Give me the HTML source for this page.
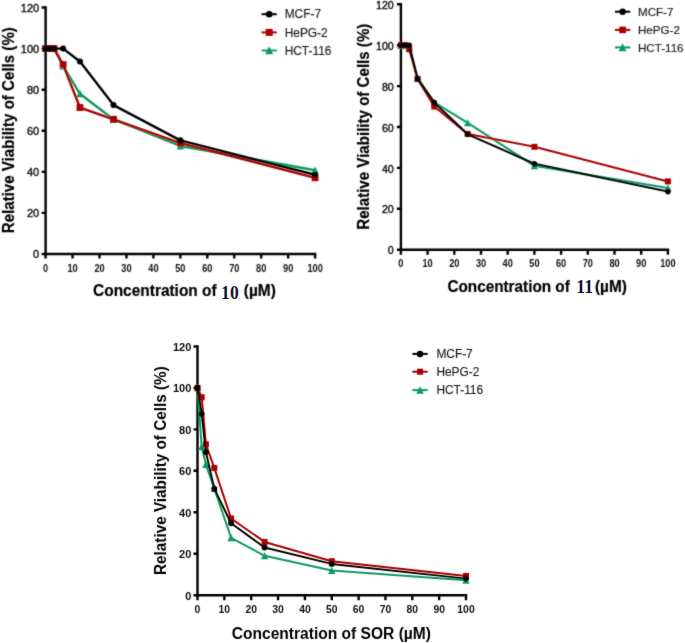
<!DOCTYPE html>
<html><head><meta charset="utf-8"><title>Cell viability charts</title>
<style>html,body{margin:0;padding:0;background:#fff;}svg{display:block;}</style></head>
<body><svg width="685" height="643" viewBox="0 0 685 643">
<defs><filter id="bt" x="-5%" y="-5%" width="110%" height="110%"><feConvolveMatrix order="3" kernelMatrix="1 2 1 2 16 2 1 2 1" divisor="28" edgeMode="none"/></filter><filter id="bb" x="-5%" y="-5%" width="110%" height="110%"><feConvolveMatrix order="3" kernelMatrix="1 2 1 2 28 2 1 2 1" divisor="40" edgeMode="none"/></filter></defs>
<rect width="685" height="643" fill="#fff"/>
<g filter="url(#bt)"><path d="M45.6 6.32V254M44.4 254H316.3" stroke="#000" stroke-width="2.4" fill="none"/>
<path d="M41.6 254H45.6M41.6 212.92H45.6M41.6 171.84H45.6M41.6 130.76H45.6M41.6 89.68H45.6M41.6 48.6H45.6M41.6 7.52H45.6" stroke="#000" stroke-width="2.4"/>
<path d="M45.6 254V258.6M72.55 254V258.6M99.5 254V258.6M126.45 254V258.6M153.4 254V258.6M180.35 254V258.6M207.3 254V258.6M234.25 254V258.6M261.2 254V258.6M288.15 254V258.6M315.1 254V258.6" stroke="#000" stroke-width="2.4"/>
<text x="39.2" y="258" text-anchor="end" style="font-family:'Liberation Sans',sans-serif;font-size:11px;fill:#111;stroke:#111;stroke-width:0.4">0</text>
<text x="39.2" y="216.92" text-anchor="end" style="font-family:'Liberation Sans',sans-serif;font-size:11px;fill:#111;stroke:#111;stroke-width:0.4">20</text>
<text x="39.2" y="175.84" text-anchor="end" style="font-family:'Liberation Sans',sans-serif;font-size:11px;fill:#111;stroke:#111;stroke-width:0.4">40</text>
<text x="39.2" y="134.76" text-anchor="end" style="font-family:'Liberation Sans',sans-serif;font-size:11px;fill:#111;stroke:#111;stroke-width:0.4">60</text>
<text x="39.2" y="93.68" text-anchor="end" style="font-family:'Liberation Sans',sans-serif;font-size:11px;fill:#111;stroke:#111;stroke-width:0.4">80</text>
<text x="39.2" y="52.6" text-anchor="end" style="font-family:'Liberation Sans',sans-serif;font-size:11px;fill:#111;stroke:#111;stroke-width:0.4">100</text>
<text x="39.2" y="11.52" text-anchor="end" style="font-family:'Liberation Sans',sans-serif;font-size:11px;fill:#111;stroke:#111;stroke-width:0.4">120</text>
<text transform="translate(45.6 271.5) scale(0.8 1)" text-anchor="middle" style="font-family:'Liberation Sans',sans-serif;font-size:11.5px;font-weight:bold;fill:#111">0</text>
<text transform="translate(72.55 271.5) scale(0.8 1)" text-anchor="middle" style="font-family:'Liberation Sans',sans-serif;font-size:11.5px;font-weight:bold;fill:#111">10</text>
<text transform="translate(99.5 271.5) scale(0.8 1)" text-anchor="middle" style="font-family:'Liberation Sans',sans-serif;font-size:11.5px;font-weight:bold;fill:#111">20</text>
<text transform="translate(126.45 271.5) scale(0.8 1)" text-anchor="middle" style="font-family:'Liberation Sans',sans-serif;font-size:11.5px;font-weight:bold;fill:#111">30</text>
<text transform="translate(153.4 271.5) scale(0.8 1)" text-anchor="middle" style="font-family:'Liberation Sans',sans-serif;font-size:11.5px;font-weight:bold;fill:#111">40</text>
<text transform="translate(180.35 271.5) scale(0.8 1)" text-anchor="middle" style="font-family:'Liberation Sans',sans-serif;font-size:11.5px;font-weight:bold;fill:#111">50</text>
<text transform="translate(207.3 271.5) scale(0.8 1)" text-anchor="middle" style="font-family:'Liberation Sans',sans-serif;font-size:11.5px;font-weight:bold;fill:#111">60</text>
<text transform="translate(234.25 271.5) scale(0.8 1)" text-anchor="middle" style="font-family:'Liberation Sans',sans-serif;font-size:11.5px;font-weight:bold;fill:#111">70</text>
<text transform="translate(261.2 271.5) scale(0.8 1)" text-anchor="middle" style="font-family:'Liberation Sans',sans-serif;font-size:11.5px;font-weight:bold;fill:#111">80</text>
<text transform="translate(288.15 271.5) scale(0.8 1)" text-anchor="middle" style="font-family:'Liberation Sans',sans-serif;font-size:11.5px;font-weight:bold;fill:#111">90</text>
<text transform="translate(315.1 271.5) scale(0.8 1)" text-anchor="middle" style="font-family:'Liberation Sans',sans-serif;font-size:11.5px;font-weight:bold;fill:#111">100</text>
<text transform="translate(13.8 130.2) rotate(-90) scale(1 1.15)" text-anchor="middle" style="font-family:'Liberation Sans',sans-serif;font-size:15.1px;font-weight:bold;fill:#000;stroke:#000;stroke-width:0.2">Relative Viability of Cells (%)</text>
<text transform="translate(93.1 295.8) scale(1 1.1)" style="font-family:'Liberation Sans',sans-serif;font-size:15.45px;font-weight:bold;fill:#000;stroke:#000;stroke-width:0.2">Concentration of </text><text transform="translate(243.8 295.8) scale(1 1.1)" style="font-family:'Liberation Sans',sans-serif;font-size:15.45px;font-weight:bold;fill:#000;stroke:#000;stroke-width:0.2">(µM)</text>
<path d="M45.6 48.6L49.8 48.6L54.02 48.6L63.12 66.06L79.96 93.79L113.51 119.46L180.35 145.96L315.1 170.2" stroke="#119a62" stroke-width="2.4" fill="none" stroke-linejoin="round"/>
<path d="M45.6 44.8L49.32 52.1L41.88 52.1Z" fill="#119a62"/>
<path d="M49.8 44.8L53.53 52.1L46.08 52.1Z" fill="#119a62"/>
<path d="M54.02 44.8L57.74 52.1L50.3 52.1Z" fill="#119a62"/>
<path d="M63.12 62.26L66.84 69.56L59.39 69.56Z" fill="#119a62"/>
<path d="M79.96 89.99L83.68 97.29L76.24 97.29Z" fill="#119a62"/>
<path d="M113.51 115.67L117.24 122.97L109.79 122.97Z" fill="#119a62"/>
<path d="M180.35 142.16L184.07 149.46L176.63 149.46Z" fill="#119a62"/>
<path d="M315.1 166.4L318.82 173.7L311.38 173.7Z" fill="#119a62"/>
<path d="M45.6 48.6L49.8 48.6L54.02 48.6L63.12 64.62L79.96 107.55L113.51 119.26L180.35 143.08L315.1 177.8" stroke="#a80000" stroke-width="2.4" fill="none" stroke-linejoin="round"/>
<rect x="42.2" y="45.2" width="6.8" height="6.8" fill="#a80000"/>
<rect x="46.4" y="45.2" width="6.8" height="6.8" fill="#a80000"/>
<rect x="50.62" y="45.2" width="6.8" height="6.8" fill="#a80000"/>
<rect x="59.72" y="61.22" width="6.8" height="6.8" fill="#a80000"/>
<rect x="76.56" y="104.15" width="6.8" height="6.8" fill="#a80000"/>
<rect x="110.11" y="115.86" width="6.8" height="6.8" fill="#a80000"/>
<rect x="176.95" y="139.68" width="6.8" height="6.8" fill="#a80000"/>
<rect x="311.7" y="174.4" width="6.8" height="6.8" fill="#a80000"/>
<path d="M45.6 48.6L49.8 48.6L54.02 48.6L63.12 48.6L79.96 61.54L113.51 105.09L180.35 140.41L315.1 174.72" stroke="#000000" stroke-width="2.4" fill="none" stroke-linejoin="round"/>
<circle cx="45.6" cy="48.6" r="3.05" fill="#000000"/>
<circle cx="49.8" cy="48.6" r="3.05" fill="#000000"/>
<circle cx="54.02" cy="48.6" r="3.05" fill="#000000"/>
<circle cx="63.12" cy="48.6" r="3.05" fill="#000000"/>
<circle cx="79.96" cy="61.54" r="3.05" fill="#000000"/>
<circle cx="113.51" cy="105.09" r="3.05" fill="#000000"/>
<circle cx="180.35" cy="140.41" r="3.05" fill="#000000"/>
<circle cx="315.1" cy="174.72" r="3.05" fill="#000000"/>
<path d="M261.6 14.2H276.8" stroke="#000000" stroke-width="2.0"/>
<circle cx="269.2" cy="14.2" r="3.3" fill="#000000"/>
<text x="284.7" y="18.4" style="font-family:'Liberation Sans',sans-serif;font-size:11.9px;fill:#1a1a1a;stroke:#1a1a1a;stroke-width:0.15">MCF-7</text>
<path d="M261.6 32.4H276.8" stroke="#a80000" stroke-width="2.0"/>
<rect x="265.7" y="28.9" width="7" height="7" fill="#a80000"/>
<text x="284.7" y="36.6" style="font-family:'Liberation Sans',sans-serif;font-size:11.9px;fill:#1a1a1a;stroke:#1a1a1a;stroke-width:0.15">HePG-2</text>
<path d="M261.6 50.5H276.8" stroke="#119a62" stroke-width="2.0"/>
<path d="M269.2 46.34L273.28 54.34L265.12 54.34Z" fill="#119a62"/>
<text x="284.7" y="54.7" style="font-family:'Liberation Sans',sans-serif;font-size:11.9px;fill:#1a1a1a;stroke:#1a1a1a;stroke-width:0.15">HCT-116</text>
<path d="M400.9 3.1V249.7M399.7 249.7H669.1" stroke="#000" stroke-width="2.4" fill="none"/>
<path d="M396.9 249.7H400.9M396.9 208.8H400.9M396.9 167.9H400.9M396.9 127H400.9M396.9 86.1H400.9M396.9 45.2H400.9M396.9 4.3H400.9" stroke="#000" stroke-width="2.4"/>
<path d="M400.9 249.7V254.7M427.6 249.7V254.7M454.3 249.7V254.7M481 249.7V254.7M507.7 249.7V254.7M534.4 249.7V254.7M561.1 249.7V254.7M587.8 249.7V254.7M614.5 249.7V254.7M641.2 249.7V254.7M667.9 249.7V254.7" stroke="#000" stroke-width="2.4"/>
<text x="393.7" y="254.3" text-anchor="end" style="font-family:'Liberation Sans',sans-serif;font-size:10.6px;fill:#111;stroke:#111;stroke-width:0.4">0</text>
<text x="393.7" y="213.4" text-anchor="end" style="font-family:'Liberation Sans',sans-serif;font-size:10.6px;fill:#111;stroke:#111;stroke-width:0.4">20</text>
<text x="393.7" y="172.5" text-anchor="end" style="font-family:'Liberation Sans',sans-serif;font-size:10.6px;fill:#111;stroke:#111;stroke-width:0.4">40</text>
<text x="393.7" y="131.6" text-anchor="end" style="font-family:'Liberation Sans',sans-serif;font-size:10.6px;fill:#111;stroke:#111;stroke-width:0.4">60</text>
<text x="393.7" y="90.7" text-anchor="end" style="font-family:'Liberation Sans',sans-serif;font-size:10.6px;fill:#111;stroke:#111;stroke-width:0.4">80</text>
<text x="393.7" y="49.8" text-anchor="end" style="font-family:'Liberation Sans',sans-serif;font-size:10.6px;fill:#111;stroke:#111;stroke-width:0.4">100</text>
<text x="393.7" y="8.9" text-anchor="end" style="font-family:'Liberation Sans',sans-serif;font-size:10.6px;fill:#111;stroke:#111;stroke-width:0.4">120</text>
<text transform="translate(400.9 267.3) scale(0.8 1)" text-anchor="middle" style="font-family:'Liberation Sans',sans-serif;font-size:11.5px;font-weight:bold;fill:#111">0</text>
<text transform="translate(427.6 267.3) scale(0.8 1)" text-anchor="middle" style="font-family:'Liberation Sans',sans-serif;font-size:11.5px;font-weight:bold;fill:#111">10</text>
<text transform="translate(454.3 267.3) scale(0.8 1)" text-anchor="middle" style="font-family:'Liberation Sans',sans-serif;font-size:11.5px;font-weight:bold;fill:#111">20</text>
<text transform="translate(481 267.3) scale(0.8 1)" text-anchor="middle" style="font-family:'Liberation Sans',sans-serif;font-size:11.5px;font-weight:bold;fill:#111">30</text>
<text transform="translate(507.7 267.3) scale(0.8 1)" text-anchor="middle" style="font-family:'Liberation Sans',sans-serif;font-size:11.5px;font-weight:bold;fill:#111">40</text>
<text transform="translate(534.4 267.3) scale(0.8 1)" text-anchor="middle" style="font-family:'Liberation Sans',sans-serif;font-size:11.5px;font-weight:bold;fill:#111">50</text>
<text transform="translate(561.1 267.3) scale(0.8 1)" text-anchor="middle" style="font-family:'Liberation Sans',sans-serif;font-size:11.5px;font-weight:bold;fill:#111">60</text>
<text transform="translate(587.8 267.3) scale(0.8 1)" text-anchor="middle" style="font-family:'Liberation Sans',sans-serif;font-size:11.5px;font-weight:bold;fill:#111">70</text>
<text transform="translate(614.5 267.3) scale(0.8 1)" text-anchor="middle" style="font-family:'Liberation Sans',sans-serif;font-size:11.5px;font-weight:bold;fill:#111">80</text>
<text transform="translate(641.2 267.3) scale(0.8 1)" text-anchor="middle" style="font-family:'Liberation Sans',sans-serif;font-size:11.5px;font-weight:bold;fill:#111">90</text>
<text transform="translate(667.9 267.3) scale(0.8 1)" text-anchor="middle" style="font-family:'Liberation Sans',sans-serif;font-size:11.5px;font-weight:bold;fill:#111">100</text>
<text transform="translate(368.5 126.7) rotate(-90) scale(1 1.15)" text-anchor="middle" style="font-family:'Liberation Sans',sans-serif;font-size:15.1px;font-weight:bold;fill:#000;stroke:#000;stroke-width:0.2">Relative Viability of Cells (%)</text>
<text transform="translate(447.4 291.7) scale(1 1.1)" style="font-family:'Liberation Sans',sans-serif;font-size:15.3px;font-weight:bold;fill:#000;stroke:#000;stroke-width:0.2">Concentration of </text><text transform="translate(595 291.7) scale(1 1.1)" style="font-family:'Liberation Sans',sans-serif;font-size:15.4px;font-weight:bold;fill:#000;stroke:#000;stroke-width:0.2">(µM)</text>
<path d="M400.9 45.2L405.07 45.2L409.24 47.25L417.59 77.92L434.27 102.46L467.65 122.91L534.4 165.85L667.9 187.94" stroke="#119a62" stroke-width="2.05" fill="none" stroke-linejoin="round"/>
<path d="M400.9 41.46L404.57 48.66L397.23 48.66Z" fill="#119a62"/>
<path d="M405.07 41.46L408.74 48.66L401.39 48.66Z" fill="#119a62"/>
<path d="M409.24 43.5L412.92 50.7L405.57 50.7Z" fill="#119a62"/>
<path d="M417.59 74.18L421.26 81.38L413.92 81.38Z" fill="#119a62"/>
<path d="M434.27 98.72L437.95 105.92L430.6 105.92Z" fill="#119a62"/>
<path d="M467.65 119.17L471.32 126.37L463.98 126.37Z" fill="#119a62"/>
<path d="M534.4 162.11L538.07 169.31L530.73 169.31Z" fill="#119a62"/>
<path d="M667.9 184.2L671.57 191.4L664.23 191.4Z" fill="#119a62"/>
<path d="M400.9 45.2L405.07 45.2L409.24 49.29L417.59 78.94L434.27 106.55L467.65 133.95L534.4 146.84L667.9 181.4" stroke="#a80000" stroke-width="2.05" fill="none" stroke-linejoin="round"/>
<rect x="397.9" y="42.2" width="6" height="6" fill="#a80000"/>
<rect x="402.07" y="42.2" width="6" height="6" fill="#a80000"/>
<rect x="406.24" y="46.29" width="6" height="6" fill="#a80000"/>
<rect x="414.59" y="75.94" width="6" height="6" fill="#a80000"/>
<rect x="431.27" y="103.55" width="6" height="6" fill="#a80000"/>
<rect x="464.65" y="130.95" width="6" height="6" fill="#a80000"/>
<rect x="531.4" y="143.84" width="6" height="6" fill="#a80000"/>
<rect x="664.9" y="178.4" width="6" height="6" fill="#a80000"/>
<path d="M400.9 45.2L405.07 45.2L409.24 45.2L417.59 78.74L434.27 102.46L467.65 134.36L534.4 163.81L667.9 191.62" stroke="#000000" stroke-width="2.05" fill="none" stroke-linejoin="round"/>
<circle cx="400.9" cy="45.2" r="2.8" fill="#000000"/>
<circle cx="405.07" cy="45.2" r="2.8" fill="#000000"/>
<circle cx="409.24" cy="45.2" r="2.8" fill="#000000"/>
<circle cx="417.59" cy="78.74" r="2.8" fill="#000000"/>
<circle cx="434.27" cy="102.46" r="2.8" fill="#000000"/>
<circle cx="467.65" cy="134.36" r="2.8" fill="#000000"/>
<circle cx="534.4" cy="163.81" r="2.8" fill="#000000"/>
<circle cx="667.9" cy="191.62" r="2.8" fill="#000000"/>
<path d="M614.9 11.7H630.3" stroke="#000000" stroke-width="2.0"/>
<circle cx="622.6" cy="11.7" r="3.2" fill="#000000"/>
<text x="638" y="15.8" style="font-family:'Liberation Sans',sans-serif;font-size:11.6px;fill:#1a1a1a;stroke:#1a1a1a;stroke-width:0.15">MCF-7</text>
<path d="M614.9 29.9H630.3" stroke="#a80000" stroke-width="2.0"/>
<rect x="619.3" y="26.6" width="6.6" height="6.6" fill="#a80000"/>
<text x="638" y="34" style="font-family:'Liberation Sans',sans-serif;font-size:11.6px;fill:#1a1a1a;stroke:#1a1a1a;stroke-width:0.15">HePG-2</text>
<path d="M614.9 47.4H630.3" stroke="#119a62" stroke-width="2.0"/>
<path d="M622.6 43.34L626.58 51.14L618.62 51.14Z" fill="#119a62"/>
<text x="638" y="51.5" style="font-family:'Liberation Sans',sans-serif;font-size:11.6px;fill:#1a1a1a;stroke:#1a1a1a;stroke-width:0.15">HCT-116</text></g>
<g filter="url(#bb)"><path d="M197.5 345.24V595.2M196.3 595.2H467.2" stroke="#000" stroke-width="2.4" fill="none"/>
<path d="M193.5 595.2H197.5M193.5 553.74H197.5M193.5 512.28H197.5M193.5 470.82H197.5M193.5 429.36H197.5M193.5 387.9H197.5M193.5 346.44H197.5" stroke="#000" stroke-width="2.4"/>
<path d="M197.5 595.2V600.2M224.35 595.2V600.2M251.2 595.2V600.2M278.05 595.2V600.2M304.9 595.2V600.2M331.75 595.2V600.2M358.6 595.2V600.2M385.45 595.2V600.2M412.3 595.2V600.2M439.15 595.2V600.2M466 595.2V600.2" stroke="#000" stroke-width="2.4"/>
<text x="191.3" y="599.7" text-anchor="end" style="font-family:'Liberation Sans',sans-serif;font-size:11px;font-weight:bold;fill:#111">0</text>
<text x="191.3" y="558.24" text-anchor="end" style="font-family:'Liberation Sans',sans-serif;font-size:11px;font-weight:bold;fill:#111">20</text>
<text x="191.3" y="516.78" text-anchor="end" style="font-family:'Liberation Sans',sans-serif;font-size:11px;font-weight:bold;fill:#111">40</text>
<text x="191.3" y="475.32" text-anchor="end" style="font-family:'Liberation Sans',sans-serif;font-size:11px;font-weight:bold;fill:#111">60</text>
<text x="191.3" y="433.86" text-anchor="end" style="font-family:'Liberation Sans',sans-serif;font-size:11px;font-weight:bold;fill:#111">80</text>
<text x="191.3" y="392.4" text-anchor="end" style="font-family:'Liberation Sans',sans-serif;font-size:11px;font-weight:bold;fill:#111">100</text>
<text x="191.3" y="350.94" text-anchor="end" style="font-family:'Liberation Sans',sans-serif;font-size:11px;font-weight:bold;fill:#111">120</text>
<text transform="translate(197.5 613.2) scale(0.88 1)" text-anchor="middle" style="font-family:'Liberation Sans',sans-serif;font-size:11.8px;font-weight:bold;fill:#111">0</text>
<text transform="translate(224.35 613.2) scale(0.88 1)" text-anchor="middle" style="font-family:'Liberation Sans',sans-serif;font-size:11.8px;font-weight:bold;fill:#111">10</text>
<text transform="translate(251.2 613.2) scale(0.88 1)" text-anchor="middle" style="font-family:'Liberation Sans',sans-serif;font-size:11.8px;font-weight:bold;fill:#111">20</text>
<text transform="translate(278.05 613.2) scale(0.88 1)" text-anchor="middle" style="font-family:'Liberation Sans',sans-serif;font-size:11.8px;font-weight:bold;fill:#111">30</text>
<text transform="translate(304.9 613.2) scale(0.88 1)" text-anchor="middle" style="font-family:'Liberation Sans',sans-serif;font-size:11.8px;font-weight:bold;fill:#111">40</text>
<text transform="translate(331.75 613.2) scale(0.88 1)" text-anchor="middle" style="font-family:'Liberation Sans',sans-serif;font-size:11.8px;font-weight:bold;fill:#111">50</text>
<text transform="translate(358.6 613.2) scale(0.88 1)" text-anchor="middle" style="font-family:'Liberation Sans',sans-serif;font-size:11.8px;font-weight:bold;fill:#111">60</text>
<text transform="translate(385.45 613.2) scale(0.88 1)" text-anchor="middle" style="font-family:'Liberation Sans',sans-serif;font-size:11.8px;font-weight:bold;fill:#111">70</text>
<text transform="translate(412.3 613.2) scale(0.88 1)" text-anchor="middle" style="font-family:'Liberation Sans',sans-serif;font-size:11.8px;font-weight:bold;fill:#111">80</text>
<text transform="translate(439.15 613.2) scale(0.88 1)" text-anchor="middle" style="font-family:'Liberation Sans',sans-serif;font-size:11.8px;font-weight:bold;fill:#111">90</text>
<text transform="translate(466 613.2) scale(0.88 1)" text-anchor="middle" style="font-family:'Liberation Sans',sans-serif;font-size:11.8px;font-weight:bold;fill:#111">100</text>
<text transform="translate(165.6 470.6) rotate(-90) scale(1 1.12)" text-anchor="middle" style="font-family:'Liberation Sans',sans-serif;font-size:15.3px;font-weight:bold;fill:#000">Relative Viability of Cells (%)</text>
<text x="231.8" y="638.9" style="font-family:'Liberation Sans',sans-serif;font-size:15.57px;font-weight:bold;fill:#000">Concentration of SOR (µM)</text>
<path d="M197.5 387.9L201.69 446.77L205.89 464.6L214.28 488.44L231.06 537.78L264.62 555.81L331.75 570.53L466 580.27" stroke="#119a62" stroke-width="2.0" fill="none" stroke-linejoin="round"/>
<path d="M197.5 384.16L201.17 391.36L193.83 391.36Z" fill="#119a62"/>
<path d="M201.69 443.03L205.36 450.23L198.02 450.23Z" fill="#119a62"/>
<path d="M205.89 460.86L209.56 468.06L202.22 468.06Z" fill="#119a62"/>
<path d="M214.28 484.7L217.95 491.9L210.61 491.9Z" fill="#119a62"/>
<path d="M231.06 534.03L234.73 541.23L227.39 541.23Z" fill="#119a62"/>
<path d="M264.62 552.07L268.3 559.27L260.95 559.27Z" fill="#119a62"/>
<path d="M331.75 566.79L335.42 573.99L328.08 573.99Z" fill="#119a62"/>
<path d="M466 576.53L469.67 583.73L462.33 583.73Z" fill="#119a62"/>
<path d="M197.5 387.9L201.69 397.23L205.89 444.29L214.28 467.92L231.06 518.5L264.62 541.92L331.75 561.2L466 575.92" stroke="#a80000" stroke-width="2.0" fill="none" stroke-linejoin="round"/>
<rect x="194.5" y="384.9" width="6" height="6" fill="#a80000"/>
<rect x="198.69" y="394.23" width="6" height="6" fill="#a80000"/>
<rect x="202.89" y="441.29" width="6" height="6" fill="#a80000"/>
<rect x="211.28" y="464.92" width="6" height="6" fill="#a80000"/>
<rect x="228.06" y="515.5" width="6" height="6" fill="#a80000"/>
<rect x="261.62" y="538.92" width="6" height="6" fill="#a80000"/>
<rect x="328.75" y="558.2" width="6" height="6" fill="#a80000"/>
<rect x="463" y="572.92" width="6" height="6" fill="#a80000"/>
<path d="M197.5 387.9L201.69 414.02L205.89 452.16L214.28 488.65L231.06 523.27L264.62 547.52L331.75 563.9L466 578.62" stroke="#000000" stroke-width="2.0" fill="none" stroke-linejoin="round"/>
<circle cx="197.5" cy="387.9" r="2.95" fill="#000000"/>
<circle cx="201.69" cy="414.02" r="2.95" fill="#000000"/>
<circle cx="205.89" cy="452.16" r="2.95" fill="#000000"/>
<circle cx="214.28" cy="488.65" r="2.95" fill="#000000"/>
<circle cx="231.06" cy="523.27" r="2.95" fill="#000000"/>
<circle cx="264.62" cy="547.52" r="2.95" fill="#000000"/>
<circle cx="331.75" cy="563.9" r="2.95" fill="#000000"/>
<circle cx="466" cy="578.62" r="2.95" fill="#000000"/>
<path d="M412.4 353.9H427.7" stroke="#000000" stroke-width="2.0"/>
<circle cx="420.05" cy="353.9" r="3.25" fill="#000000"/>
<text x="436.4" y="358.1" style="font-family:'Liberation Sans',sans-serif;font-size:11.9px;fill:#1a1a1a;stroke:#1a1a1a;stroke-width:0.12">MCF-7</text>
<path d="M412.4 371.7H427.7" stroke="#a80000" stroke-width="2.0"/>
<rect x="417.05" y="368.7" width="6" height="6" fill="#a80000"/>
<text x="436.4" y="375.9" style="font-family:'Liberation Sans',sans-serif;font-size:11.9px;fill:#1a1a1a;stroke:#1a1a1a;stroke-width:0.12">HePG-2</text>
<path d="M412.4 390.1H427.7" stroke="#119a62" stroke-width="2.0"/>
<path d="M420.05 386.25L423.82 393.65L416.28 393.65Z" fill="#119a62"/>
<text x="436.4" y="394.3" style="font-family:'Liberation Sans',sans-serif;font-size:11.9px;fill:#1a1a1a;stroke:#1a1a1a;stroke-width:0.12">HCT-116</text></g>
<text transform="translate(221.1 298.7) scale(0.97 1)" style="font-family:'Liberation Serif',serif;font-size:18.2px;font-weight:bold;fill:#141432">10</text><text transform="translate(576.3 292.9) scale(0.97 1)" style="font-family:'Liberation Serif',serif;font-size:18.2px;font-weight:bold;fill:#141432">11</text>
</svg></body></html>
